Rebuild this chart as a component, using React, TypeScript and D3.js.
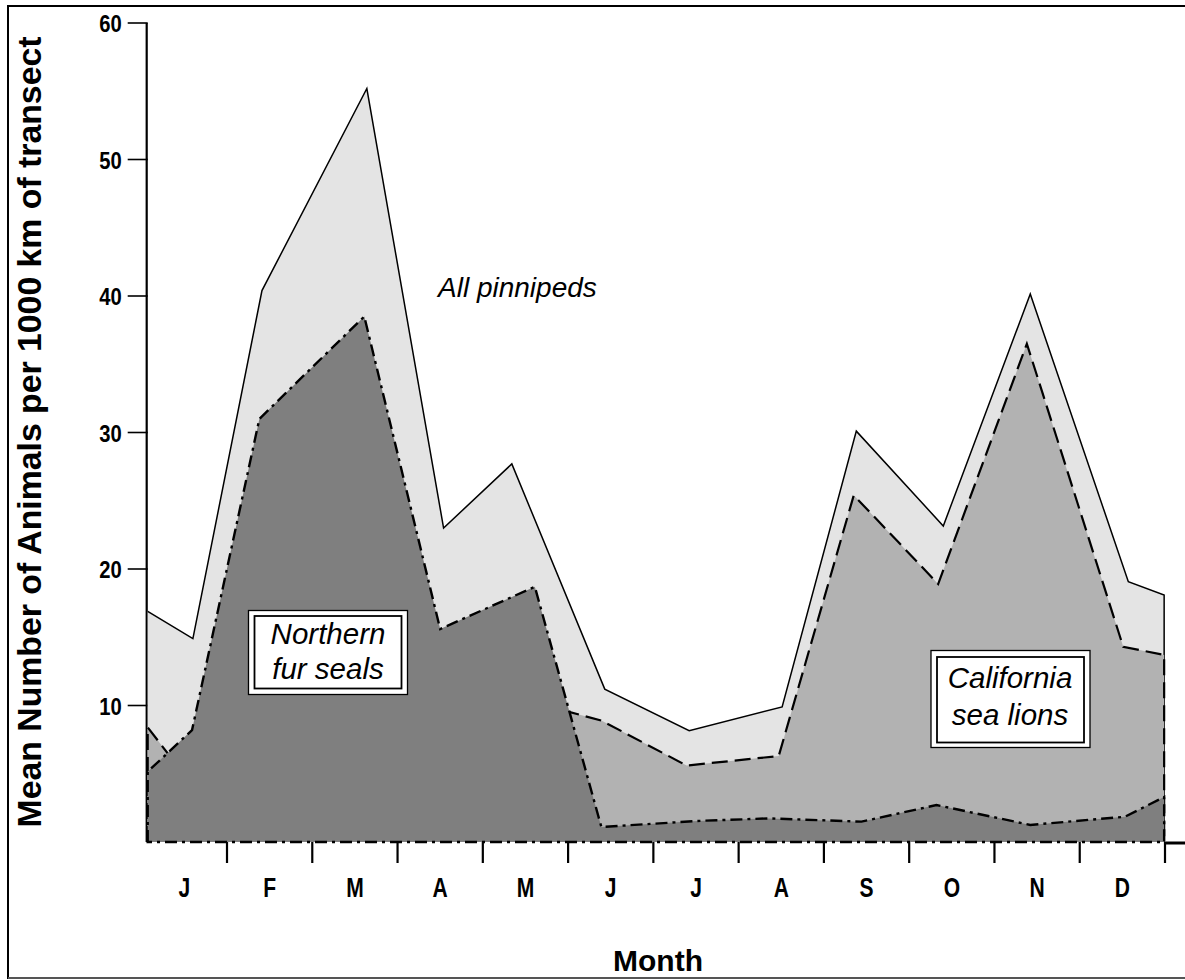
import React from 'react';
import * as d3 from 'd3';

// Month initials along the x axis
const monthLabels = ['J', 'F', 'M', 'A', 'M', 'J', 'J', 'A', 'S', 'O', 'N', 'D'];
const yTickValues = [10, 20, 30, 40, 50, 60];

// Survey times (fractional months from 1 January) and densities (animals per 1000 km)
const allPinnipedMonths = [0.07, 0.6, 1.41, 2.64, 3.54, 4.34, 5.43, 6.42, 7.51, 8.38, 9.4, 10.42, 11.57, 11.99];
const allPinnipedValues = [16.9, 14.9, 40.4, 55.2, 23.0, 27.7, 11.2, 8.15, 9.9, 30.1, 23.15, 40.15, 19.07, 18.1];

const seaLionMonths = [0.07, 0.6, 1.41, 2.64, 3.54, 4.61, 5.39, 6.39, 7.47, 8.35, 9.34, 10.38, 11.51, 11.99];
const seaLionValues = [8.4, 4.1, 3.0, 2.5, 4.0, 10.2, 8.9, 5.6, 6.3, 25.4, 18.9, 36.5, 14.3, 13.7];

const furSealMonths = [0.07, 0.59, 1.38, 2.61, 3.5, 4.61, 5.39, 6.51, 7.35, 8.44, 9.32, 10.42, 11.53, 11.99];
const furSealValues = [5.15, 8.2, 31.0, 38.5, 15.6, 18.7, 1.1, 1.54, 1.73, 1.49, 2.71, 1.25, 1.85, 3.3];

type Pt = { m: number; v: number };
const toPoints = (ms: number[], vs: number[]): Pt[] => ms.map((m, i) => ({ m, v: vs[i] }));

export default function App() {
  const width = 1185;
  const height = 980;

  const x = d3.scaleLinear().domain([0, 12]).range([141.73, 1165]);
  const y = d3.scaleLinear().domain([0, 60]).range([842, 23]);
  const y0 = y(0);

  const allPts = toPoints(allPinnipedMonths, allPinnipedValues);
  const seaPts = toPoints(seaLionMonths, seaLionValues);
  const furPts = toPoints(furSealMonths, furSealValues);

  const area = d3
    .area<Pt>()
    .x((d) => x(d.m))
    .y0(y0)
    .y1((d) => y(d.v));
  const line = d3
    .line<Pt>()
    .x((d) => x(d.m))
    .y((d) => y(d.v));

  // Outline paths: the top edge plus the vertical drops to zero
  const first = (p: Pt[]) => ({ m: p[0].m, v: 0 });
  const last = (p: Pt[]) => ({ m: p[p.length - 1].m, v: 0 });
  const allOutline = line([...allPts, last(allPts)]);
  const seaOutline = line([first(seaPts), ...seaPts, last(seaPts)]);
  const furOutline = line([first(furPts), ...furPts, last(furPts)]) + 'Z';

  const axisX = x(allPinnipedMonths[0]);
  const axisEnd = x(allPinnipedMonths[allPinnipedMonths.length - 1]);

  const sans = '"Liberation Sans", Arial, Helvetica, sans-serif';

  return (
    <svg
      width={width}
      height={height}
      style={{ position: 'absolute', left: 0, top: 0, background: '#fff' }}
    >
      {/* outer frame */}
      <rect x={8} y={6} width={1190} height={972} fill="#fff" stroke="#000" strokeWidth={2} />
      <line x1={8} x2={1185} y1={978} y2={978} stroke="#555" strokeWidth={2} />

      {/* y axis */}
      <line x1={axisX - 1} x2={axisX - 1} y1={y(60)} y2={y0} stroke="#000" strokeWidth={2.2} />
      {yTickValues.map((t) => (
        <g key={t}>
          <line x1={axisX - 20} x2={axisX} y1={y(t)} y2={y(t)} stroke="#000" strokeWidth={1.6} />
          <text
            transform={`translate(${axisX - 26},${y(t) + 9}) scale(0.88,1.05)`}
            textAnchor="end"
            fontFamily={sans}
            fontWeight="bold"
            fontSize={23}
          >
            {t}
          </text>
        </g>
      ))}

      {/* areas */}
      <path d={area(allPts) ?? ''} fill="#e4e4e4" />
      <path d={allOutline ?? ''} fill="none" stroke="#000" strokeWidth={1.5} />
      <path d={area(seaPts) ?? ''} fill="#b2b2b2" />
      <path d={seaOutline ?? ''} fill="none" stroke="#000" strokeWidth={2.2} strokeDasharray="16,7" />
      <path d={area(furPts) ?? ''} fill="#7f7f7f" />
      <path
        d={furOutline}
        fill="none"
        stroke="#000"
        strokeWidth={2.4}
        strokeDasharray="12,5,3,5"
      />

      {/* x axis */}
      <line x1={axisEnd} x2={1185} y1={y0 + 1} y2={y0 + 1} stroke="#000" strokeWidth={3} />
      {d3.range(1, 13).map((k) => (
        <line key={k} x1={x(k)} x2={x(k)} y1={y0} y2={y0 + 21} stroke="#000" strokeWidth={2.2} />
      ))}
      {monthLabels.map((lab, i) => (
        <text
          key={i}
          transform={`translate(${x(i + 0.5)},897) scale(0.78,1)`}
          textAnchor="middle"
          fontFamily={sans}
          fontWeight="bold"
          fontSize={27}
        >
          {lab}
        </text>
      ))}

      {/* axis titles */}
      <text
        x={658}
        y={971}
        textAnchor="middle"
        fontFamily={sans}
        fontWeight="bold"
        fontSize={30}
      >
        Month
      </text>
      <text
        transform="translate(41,432) rotate(-90)"
        textAnchor="middle"
        fontFamily={sans}
        fontWeight="bold"
        fontSize={34}
        textLength={791}
        lengthAdjust="spacingAndGlyphs"
      >
        Mean Number of Animals per 1000 km of transect
      </text>

      {/* series annotations */}
      <text x={438} y={297} fontFamily={sans} fontStyle="italic" fontSize={28}>
        All pinnipeds
      </text>

      <g>
        <rect x={248.5} y={610.5} width={159} height={84} fill="#fff" stroke="#000" strokeWidth={1.3} />
        <rect x={254.5} y={616} width={147} height={72.5} fill="none" stroke="#000" strokeWidth={1.8} />
        <text x={328} y={644} textAnchor="middle" fontFamily={sans} fontStyle="italic" fontSize={29.5}>
          Northern
        </text>
        <text x={328} y={679} textAnchor="middle" fontFamily={sans} fontStyle="italic" fontSize={29.5}>
          fur seals
        </text>
      </g>

      <g>
        <rect x={931} y={650.5} width={159} height={97} fill="#fff" stroke="#000" strokeWidth={1.3} />
        <rect x={937} y={657} width={147} height={85.5} fill="none" stroke="#000" strokeWidth={1.8} />
        <text x={1010} y={688} textAnchor="middle" fontFamily={sans} fontStyle="italic" fontSize={29.5}>
          California
        </text>
        <text x={1010} y={725} textAnchor="middle" fontFamily={sans} fontStyle="italic" fontSize={29.5}>
          sea lions
        </text>
      </g>
    </svg>
  );
}
